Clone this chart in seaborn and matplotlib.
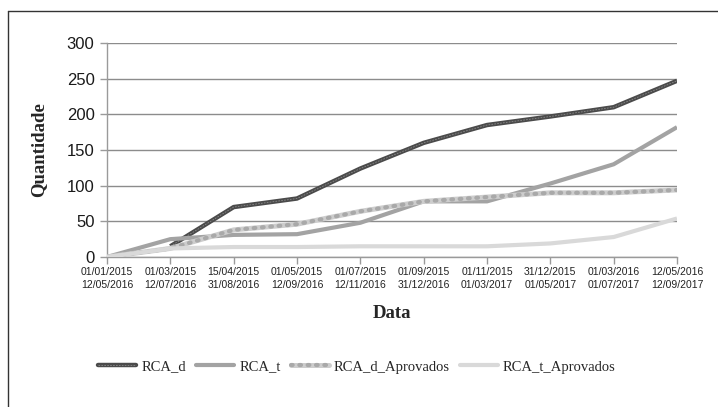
import numpy as np
import pandas as pd
import matplotlib
matplotlib.use("Agg")
import matplotlib.pyplot as plt
from matplotlib.lines import Line2D
import seaborn as sns

# Period labels (start of window / end of window)
periods_start = ["01/01/2015", "01/03/2015", "15/04/2015", "01/05/2015", "01/07/2015",
                 "01/09/2015", "01/11/2015", "31/12/2015", "01/03/2016", "12/05/2016"]
periods_end = ["12/05/2016", "12/07/2016", "31/08/2016", "12/09/2016", "12/11/2016",
               "31/12/2016", "01/03/2017", "01/05/2017", "01/07/2017", "12/09/2017"]

rca_d = [np.nan, 15, 70, 82, 124, 160, 185, 197, 210, 247]
rca_t = [0, 25, 31, 32, 48, 78, 78, 103, 130, 182]
rca_d_aprovados = [0, 12, 38, 46, 64, 78, 84, 90, 90, 94]
rca_t_aprovados = [0, 12, 14, 14, 15, 15, 15, 19, 28, 54]

yticks = [0, 50, 100, 150, 200, 250, 300]

sns.set_style("white")
plt.rcParams["font.family"] = ["Liberation Sans", "DejaVu Sans"]

fig = plt.figure(figsize=(7.18, 4.07), dpi=100)
ax = fig.add_axes([107 / 718, 150 / 407, 570 / 718, 214 / 407])

pos = np.arange(len(periods_start))
df = pd.DataFrame({"pos": pos, "RCA_d": rca_d, "RCA_t": rca_t,
                   "RCA_d_Aprovados": rca_d_aprovados,
                   "RCA_t_Aprovados": rca_t_aprovados})

# Series, bottom to top
sns.lineplot(data=df, x="pos", y="RCA_d", ax=ax, color="#4b4b4b", lw=3.2,
             solid_capstyle="butt", zorder=3)
sns.lineplot(data=df, x="pos", y="RCA_d", ax=ax, color="#8a8a8a", lw=0.6,
             linestyle=(0, (2, 1.5)), zorder=3.1)
sns.lineplot(data=df, x="pos", y="RCA_t", ax=ax, color="#a3a3a3", lw=3.0,
             solid_capstyle="butt", zorder=4)
sns.lineplot(data=df, x="pos", y="RCA_d_Aprovados", ax=ax, color="#cdcdcd", lw=3.6,
             solid_capstyle="butt", zorder=5)
sns.lineplot(data=df, x="pos", y="RCA_d_Aprovados", ax=ax, color="#a9a9a9", lw=3.0,
             linestyle=(0, (0.4, 1.6)), dash_capstyle="round", zorder=5.1)
sns.lineplot(data=df, x="pos", y="RCA_t_Aprovados", ax=ax, color="#d9d9d9", lw=3.0,
             solid_capstyle="butt", zorder=6)

ax.set_xlim(pos[0], pos[-1])
ax.set_ylim(0, 300)
ax.set_yticks(yticks)
ax.set_yticklabels([str(v) for v in yticks], fontsize=12, color="#1a1a1a")
ax.set_xticks(pos)
ax.set_xticklabels([f"{a}\n{b}" for a, b in zip(periods_start, periods_end)],
                   fontsize=7.5, color="#222222", linespacing=1.35)

ax.grid(axis="y", color="#8c8c8c", lw=1.0, zorder=1)
ax.grid(axis="x", visible=False)
for side in ["top", "right"]:
    ax.spines[side].set_visible(False)
for side in ["left", "bottom"]:
    ax.spines[side].set_color("#9a9a9a")
    ax.spines[side].set_linewidth(1.0)
ax.tick_params(axis="y", length=5, width=1, color="#9a9a9a", pad=4, left=True)
ax.tick_params(axis="x", length=5, width=1, color="#9a9a9a", pad=2, bottom=True)

ax.set_xlabel("Data", fontsize=13.5, fontweight="bold",
              family=["Liberation Serif", "DejaVu Serif"], labelpad=11)
ax.set_ylabel("Quantidade", fontsize=13.5, fontweight="bold",
              family=["Liberation Serif", "DejaVu Serif"], labelpad=14)

# Legend handles mirror the line styles
h_d = (Line2D([], [], color="#4b4b4b", lw=3.2),
       Line2D([], [], color="#8a8a8a", lw=0.6, linestyle=(0, (2, 1.5))))
h_t = Line2D([], [], color="#a3a3a3", lw=3.0)
h_da = (Line2D([], [], color="#cdcdcd", lw=3.6),
        Line2D([], [], color="#a9a9a9", lw=3.0, linestyle=(0, (0.4, 1.6)),
               dash_capstyle="round"))
h_ta = Line2D([], [], color="#d9d9d9", lw=3.0)
fig.legend([h_d, h_t, h_da, h_ta],
           ["RCA_d", "RCA_t", "RCA_d_Aprovados", "RCA_t_Aprovados"],
           loc="center", bbox_to_anchor=(357 / 718, 1 - 367 / 407), ncol=4,
           frameon=False, handlelength=2.6, handletextpad=0.35,
           columnspacing=0.7, prop={"family": ["Liberation Serif", "DejaVu Serif"],
                                     "size": 10.5})

# Outer chart frame (left and top edges)
fig.add_artist(Line2D([7.5 / 718, 7.5 / 718], [0, 1 - 11 / 407],
                      transform=fig.transFigure, color="#333333", lw=1.0))
fig.add_artist(Line2D([7.5 / 718, 1], [1 - 11 / 407, 1 - 11 / 407],
                      transform=fig.transFigure, color="#333333", lw=1.0))

fig.savefig("out.png", dpi=100)
